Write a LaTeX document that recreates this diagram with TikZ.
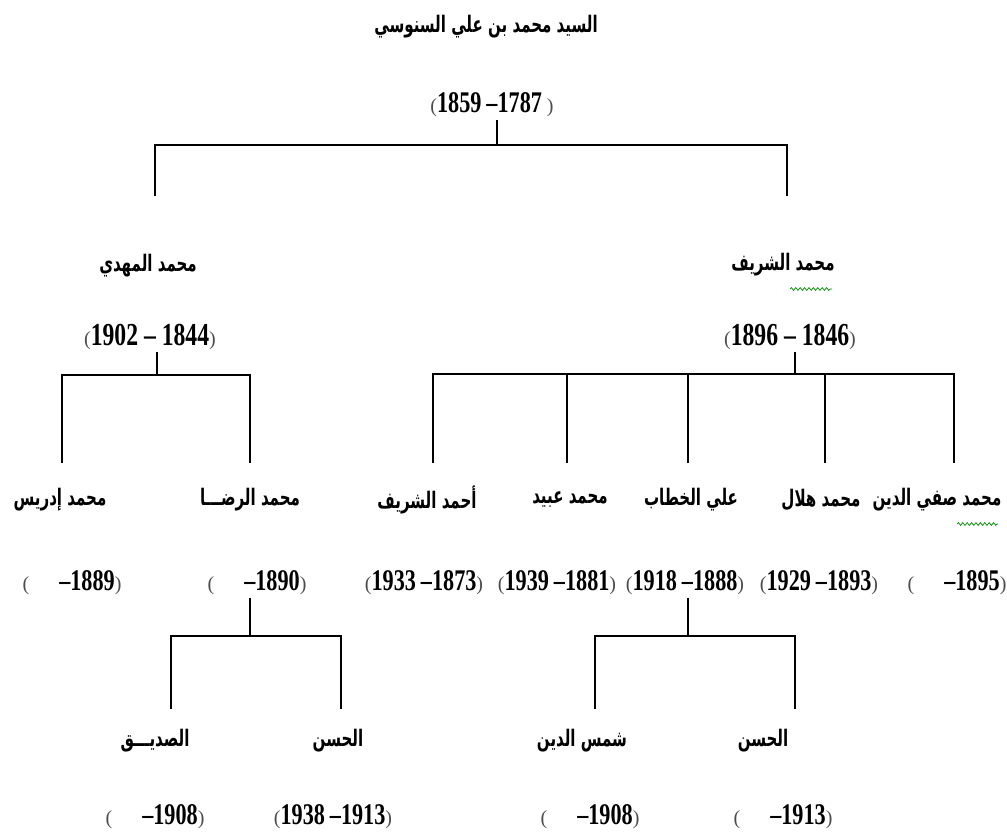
\documentclass[tikz,border=0pt]{standalone}
\usepackage{fontspec}
\usetikzlibrary{positioning, decorations.pathmorphing}
\setmainfont{Liberation Serif}
\newfontfamily\arabicfont[Script=Arabic, FakeStretch=0.66, BoldFont={DejaVu Sans Bold}, BoldFeatures={FakeStretch=0.66}]{DejaVu Sans}
\newfontfamily\yearfont[FakeStretch=0.74]{Liberation Serif Bold}
\newfontfamily\parenfont{Liberation Serif}
\TeXXeTstate=1
\newcommand\rtl[1]{\beginR#1\endR}
\newcommand\paren[1]{{\parenfont\fontsize{10}{10}\selectfont\color{black!70}#1}}
\newcommand\yrs[1]{\paren{(}#1\paren{)}}
\newcommand\gap{\hspace*{15pt}}

\begin{document}
\begin{tikzpicture}[
  x=0.5pt, y=-0.5pt,
  person/.style={font=\arabicfont\bfseries\fontsize{11.4}{13}\selectfont, inner sep=1pt},
  years/.style={font=\yearfont\fontsize{15}{16}\selectfont, inner sep=1pt},
  link/.style={line width=0.8pt},
  spell/.style={draw=green!55!black, line width=0.35pt, decorate,
    decoration={snake, amplitude=0.7pt, segment length=2.2pt}}
]
\useasboundingbox (0,0) rectangle (1007,836);

\node[person] (root) at (486,27) {\rtl{السيد محمد بن علي السنوسي}};
\node[years] (rootY) at (492,105) {\yrs{1859\,–1787\,}};

\node[person] (mahdi) at (148,266) {\rtl{محمد المهدي}};
\node[years, font=\yearfont\fontsize{16}{17}\selectfont] (mahdiY) at (150,337) {\yrs{1902 – 1844}};
\node[person] (sharif) at (783,265) {\rtl{محمد الشريف}};
\node[years, font=\yearfont\fontsize{16}{17}\selectfont] (sharifY) at (790,337) {\yrs{1896 – 1846}};

\node[person] (idris) at (60,500) {\rtl{محمد إدريس}};
\node[years] (idrisY) at (72,583) {\yrs{\gap–1889}};
\node[person] (rida) at (250,500) {\rtl{محمد الرضـــا}};
\node[years] (ridaY) at (257,583) {\yrs{\gap–1890}};
\node[person] (ahmad) at (427,500) {\rtl{أحمد الشريف}};
\node[years] (ahmadY) at (424,583) {\yrs{1933\,–1873}};
\node[person] (ubaid) at (570,500) {\rtl{محمد عبيد}};
\node[years] (ubaidY) at (557,583) {\yrs{1939\,–1881}};
\node[person] (khattab) at (691,500) {\rtl{علي الخطاب}};
\node[years] (khattabY) at (685,583) {\yrs{1918\,–1888}};
\node[person] (hilal) at (821,500) {\rtl{محمد هلال}};
\node[years] (hilalY) at (819,583) {\yrs{1929\,–1893}};
\node[person] (safi) at (937,500) {\rtl{محمد صفي الدين}};
\node[years] (safiY) at (957,583) {\yrs{\gap–1895}};

\node[person] (siddiq) at (155,741) {\rtl{الصديـــق}};
\node[years] (siddiqY) at (155,817) {\yrs{\gap–1908}};
\node[person] (hasanA) at (338,741) {\rtl{الحسن}};
\node[years] (hasanAY) at (333,817) {\yrs{1938\,–1913}};
\node[person] (shams) at (582,741) {\rtl{شمس الدين}};
\node[years] (shamsY) at (590,817) {\yrs{\gap–1908}};
\node[person] (hasanB) at (763,741) {\rtl{الحسن}};
\node[years] (hasanBY) at (783,817) {\yrs{\gap–1913}};

\coordinate (j0) at (497,145);
\coordinate (d-mahdi) at (155,196);
\coordinate (d-sharif) at (787,196);
\draw[link] (j0 |- rootY.south) -- (j0);
\draw[link] (d-mahdi) |- (j0) -| (d-sharif);

\coordinate (j1) at (157,375);
\coordinate (d-idris) at (62,463);
\coordinate (d-rida) at (250,463);
\draw[link] (j1 |- mahdiY.south) -- (j1);
\draw[link] (d-idris) |- (j1) -| (d-rida);

\coordinate (j2) at (795,374);
\coordinate (d-ahmad) at (433,463);
\coordinate (d-ubaid) at (567,463);
\coordinate (d-khattab) at (688,463);
\coordinate (d-hilal) at (825,463);
\coordinate (d-safi) at (954,463);
\draw[link] (j2 |- sharifY.south) -- (j2);
\draw[link] (d-ahmad) |- (j2) -| (d-safi);
\foreach \c in {ubaid,khattab,hilal}
  \draw[link] (d-\c) -- (d-\c |- j2);

\coordinate (j3) at (250,636);
\coordinate (d-siddiq) at (171,709);
\coordinate (d-hasanA) at (341,709);
\draw[link] (j3 |- ridaY.south) -- (j3);
\draw[link] (d-siddiq) |- (j3) -| (d-hasanA);

\coordinate (j4) at (688,636);
\coordinate (d-shams) at (595,709);
\coordinate (d-hasanB) at (795,709);
\draw[link] (j4 |- khattabY.south) -- (j4);
\draw[link] (d-shams) |- (j4) -| (d-hasanB);

\draw[spell] (790,289) -- (832,289);
\draw[spell] (957,524) -- (998,524);
\end{tikzpicture}
\end{document}
